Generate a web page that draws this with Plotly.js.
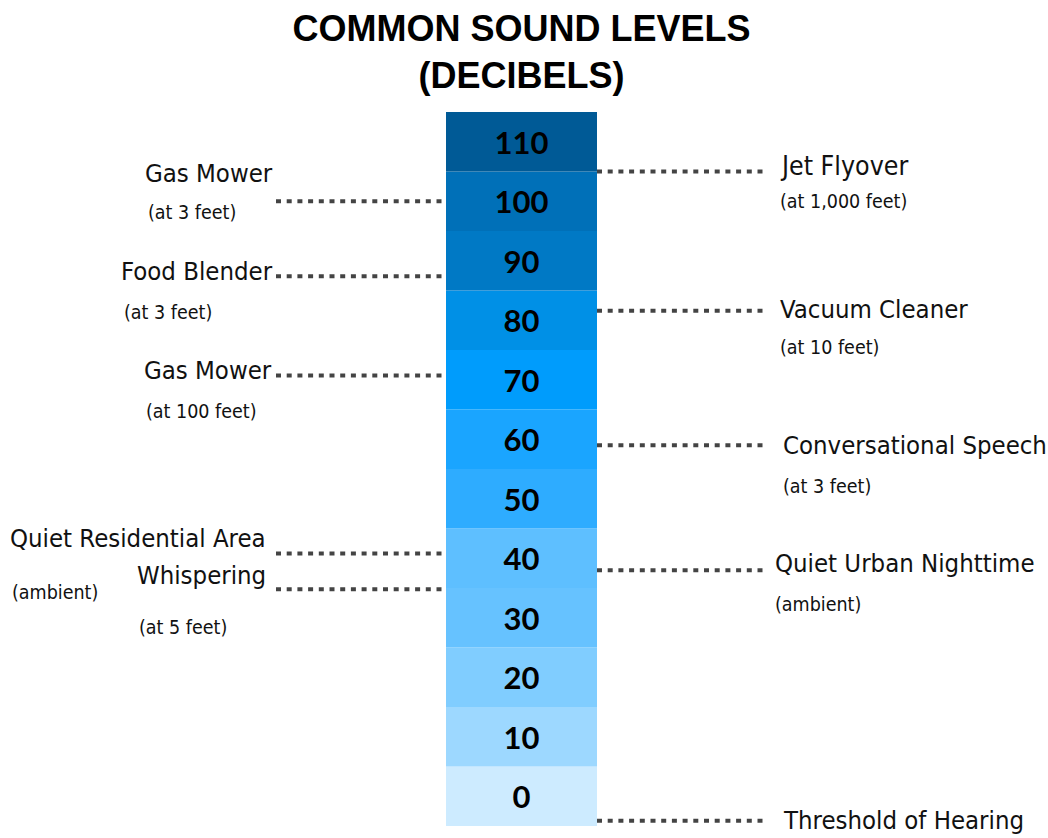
<!DOCTYPE html>
<html>
<head>
<meta charset="utf-8">
<script src="https://cdn.plot.ly/plotly-3.0.1.min.js"></script>
<style>html,body{margin:0;padding:0;background:#fff;}</style>
</head>
<body>
<div id="chart" style="width:1048px;height:838px;"></div>
<script>
// ---- data ----
const levels = [0, 10, 20, 30, 40, 50, 60, 70, 80, 90, 100, 110];
const levelColors = ['#cdebff', '#9dd8ff', '#80cdff', '#66c2ff', '#5ebfff', '#2eacff',
                     '#1aa5ff', '#009cfc', '#0090e6', '#0079c5', '#0070b8', '#005a96'];

const labelNames = ['Gas Mower', 'Food Blender', 'Gas Mower', 'Quiet Residential Area', 'Whispering',
                    'Jet Flyover', 'Vacuum Cleaner', 'Conversational Speech', 'Quiet Urban Nighttime', 'Threshold of Hearing'];
const labelNotes = ['(at 3 feet)', '(at 3 feet)', '(at 100 feet)', '(ambient)', '(at 5 feet)',
                    '(at 1,000 feet)', '(at 10 feet)', '(at 3 feet)', '(ambient)', ''];
const labelDb = [100, 87.4, 70.7, 40.8, 34.8, 105, 81.6, 59, 38, -4.1];
const labelSide = ['left', 'left', 'left', 'left', 'left', 'right', 'right', 'right', 'right', 'right'];

// ---- layout / style (pixel positions, not data) ----
const colCenter = 521.5, colWidth = 151;
const leftLine = [276, 446], rightLine = [597, 767];
const labelPos = [
  {mainX: 273, subX: 148, mainOff: -28, subOff: 11, size: 25.5},
  {mainX: 273, subX: 124, mainOff: -5.5, subOff: 36, size: 25.5},
  {mainX: 272, subX: 146, mainOff: -6, subOff: 36, size: 25.5},
  {mainX: 266, subX: 12, mainOff: -15, subOff: 39, size: 25.5},
  {mainX: 266, subX: 139, mainOff: -14, subOff: 38, size: 25.5},
  {mainX: 780, subX: 780, mainOff: -6, subOff: 30, size: 26.5},
  {mainX: 780, subX: 780, mainOff: -1.5, subOff: 37, size: 25.5},
  {mainX: 783, subX: 783, mainOff: 0, subOff: 41, size: 25.5},
  {mainX: 775, subX: 775, mainOff: -7.5, subOff: 34, size: 25.5},
  {mainX: 783, subX: 783, mainOff: -1, subOff: 0, size: 25.5}
];
const noteSize = 19.5;
const labelFont = 'DejaVu Sans Condensed, Liberation Sans Narrow, Liberation Sans, sans-serif';

// column of level cells
const bars = {
  type: 'bar',
  x: levels.map(() => colCenter),
  y: levels.map(() => 10),
  base: levels.map(v => v - 5),
  width: colWidth,
  text: levels.map(String),
  textposition: 'inside',
  insidetextanchor: 'middle',
  textangle: 0,
  constraintext: 'none',
  textfont: {family: 'Lato, Open Sans, sans-serif', size: 31, color: '#000', weight: 700},
  marker: {color: levelColors, line: {width: 0}},
  hoverinfo: 'skip',
  showlegend: false
};

// dotted leader lines
const lx = [], ly = [];
labelDb.forEach((v, i) => {
  const seg = labelSide[i] === 'left' ? leftLine : rightLine;
  lx.push(seg[0], seg[1], null);
  ly.push(v, v, null);
});
const leaders = {
  type: 'scatter', mode: 'lines', x: lx, y: ly,
  line: {color: '#444', width: 4, dash: '5px,5.7px'},
  hoverinfo: 'skip', showlegend: false
};

const annotations = [];
labelNames.forEach((name, i) => {
  const p = labelPos[i];
  const left = labelSide[i] === 'left';
  annotations.push({
    xref: 'x', yref: 'y', x: p.mainX, y: labelDb[i], yshift: -p.mainOff,
    text: name, showarrow: false, xanchor: left ? 'right' : 'left', yanchor: 'middle',
    borderpad: 0, borderwidth: 0,
    font: {family: labelFont, size: p.size, color: '#111'}
  });
  if (labelNotes[i]) {
    annotations.push({
      xref: 'x', yref: 'y', x: p.subX, y: labelDb[i], yshift: -p.subOff,
      text: labelNotes[i], showarrow: false, xanchor: 'left', yanchor: 'middle',
      borderpad: 0, borderwidth: 0,
      font: {family: labelFont, size: noteSize, color: '#111'}
    });
  }
});

const layout = {
  width: 1048, height: 838,
  margin: {l: 0, r: 0, t: 0, b: 0},
  paper_bgcolor: '#fff', plot_bgcolor: '#fff',
  title: {
    text: '<b>COMMON SOUND LEVELS<br>(DECIBELS)</b>',
    font: {family: 'Liberation Sans, Arial, sans-serif', size: 36, color: '#000'},
    x: 521.5 / 1048, xanchor: 'center', xref: 'paper',
    y: 1 - 41 / 838, yref: 'container', yanchor: 'top'
  },
  xaxis: {range: [0, 1048], visible: false, fixedrange: true},
  yaxis: {range: [-7.017, 133.824], visible: false, fixedrange: true},
  barmode: 'overlay',
  showlegend: false,
  annotations: annotations
};

Plotly.newPlot('chart', [bars, leaders], layout, {displayModeBar: false, staticPlot: true});
</script>
</body>
</html>
